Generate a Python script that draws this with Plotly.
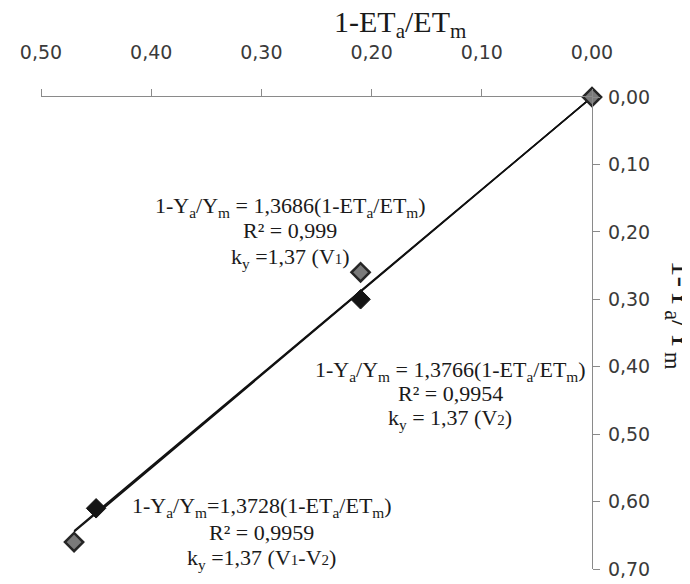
import plotly.graph_objects as go

# ---- data ----
x_ticks = [0.0, 0.1, 0.2, 0.3, 0.4, 0.5]
y_ticks = [0.0, 0.1, 0.2, 0.3, 0.4, 0.5, 0.6, 0.7]

et_v1 = [0.0, 0.21, 0.47]      # 1-ETa/ETm, V1 (grey diamonds)
ya_v1 = [0.0, 0.26, 0.66]      # 1-Ya/Ym, V1
et_v2 = [0.0, 0.21, 0.45]      # V2 (black diamonds)
ya_v2 = [0.0, 0.30, 0.61]

slopes = {"V1": 1.3686, "V2": 1.3766, "V1-V2": 1.3728}
r2 = {"V1": "0,999", "V2": "0,9954", "V1-V2": "0,9959"}
slope_txt = {"V1": "1,3686", "V2": "1,3766", "V1-V2": "1,3728"}
line_xmax = {"V1": 0.47, "V2": 0.45, "V1-V2": 0.47}

SERIF = "Liberation Serif, Times New Roman, serif"
SANS = "DejaVu Sans, Verdana, sans-serif"

fig = go.Figure()

# trend lines
for k in ["V1", "V2", "V1-V2"]:
    xs = [0.0, line_xmax[k]]
    fig.add_trace(go.Scatter(x=xs, y=[slopes[k] * v for v in xs], mode="lines",
                             line=dict(color="#111111", width=1.4),
                             showlegend=False, hoverinfo="skip", cliponaxis=False))

fig.add_trace(go.Scatter(x=et_v2, y=ya_v2, mode="markers", cliponaxis=False,
                         marker=dict(symbol="diamond", size=15, color="#151515",
                                     line=dict(color="#151515", width=1)),
                         showlegend=False))
fig.add_trace(go.Scatter(x=et_v1, y=ya_v1, mode="markers", cliponaxis=False,
                         marker=dict(symbol="diamond", size=14, color="#7a7a7a",
                                     line=dict(color="#262626", width=2.5)),
                         showlegend=False))

# page body has an 8px default margin, so the plot area is offset accordingly
fig.update_layout(
    width=690, height=584,
    margin=dict(l=32, r=106, t=89, b=17),
    paper_bgcolor="white", plot_bgcolor="white",
    separators=", ",
    showlegend=False,
    xaxis=dict(range=[0.5, 0.0], side="top", tickvals=x_ticks, tickformat=".2f",
               showgrid=False, zeroline=False, showline=True, linecolor="#8a8a8a",
               linewidth=1.2, ticks="outside", ticklen=7, tickcolor="#8a8a8a",
               tickfont=dict(family=SANS, size=19, color="#3a3a3a"),
               ticklabelstandoff=22),
    yaxis=dict(range=[0.7, 0.0], side="right", tickvals=y_ticks, tickformat=".2f",
               showgrid=False, zeroline=False, showline=True, linecolor="#8a8a8a",
               linewidth=1.2, ticks="outside", ticklen=7, tickcolor="#8a8a8a",
               tickfont=dict(family=SANS, size=19, color="#3a3a3a"),
               ticklabelstandoff=4),
)

def small(s):
    return "<span style='font-size:15px'>" + s + "</span>"

eq_font = dict(family=SERIF, size=22, color="#1a1a1a")
labels = [
    ("V1", 0.2736, [0.1625, 0.1977, 0.2387],
     "1-Y<sub>a</sub>/Y<sub>m</sub> = " + slope_txt["V1"] + "(1-ET<sub>a</sub>/ET<sub>m</sub>)",
     "k<sub>y</sub> =1,37 (V" + small("1") + ")"),
    ("V2", 0.1286, [0.407, 0.439, 0.477],
     "1-Y<sub>a</sub>/Y<sub>m</sub> = " + slope_txt["V2"] + "(1-ET<sub>a</sub>/ET<sub>m</sub>)",
     "k<sub>y</sub> = 1,37 (V" + small("2") + ")"),
    ("V1-V2", 0.2998, [0.6076, 0.6457, 0.685],
     "1-Y<sub>a</sub>/Y<sub>m</sub>=" + slope_txt["V1-V2"] + "(1-ET<sub>a</sub>/ET<sub>m</sub>)",
     "k<sub>y</sub> =1,37 (V" + small("1") + "-V" + small("2") + ")"),
]
for k, xc, ys, eq, ky in labels:
    for txt, yy in zip([eq, "R² = " + r2[k], ky], ys):
        fig.add_annotation(x=xc, y=yy, xref="x", yref="y", text=txt, showarrow=False,
                           xanchor="center", yanchor="middle", font=eq_font)

fig.add_annotation(x=0.652, y=1.155, xref="paper", yref="paper",
                   xanchor="center", yanchor="middle",
                   text="1-ET<sub>a</sub>/ET<sub>m</sub>", showarrow=False,
                   font=dict(family=SERIF, size=30, color="#1a1a1a"))
fig.add_annotation(x=1.16, y=0.537, xref="paper", yref="paper",
                   xanchor="center", yanchor="middle",
                   text="1-Y<sub>a</sub>/Y<sub>m</sub>", showarrow=False, textangle=90,
                   font=dict(family=SERIF, size=32, color="#1a1a1a"))

fig.write_html("out.html")
